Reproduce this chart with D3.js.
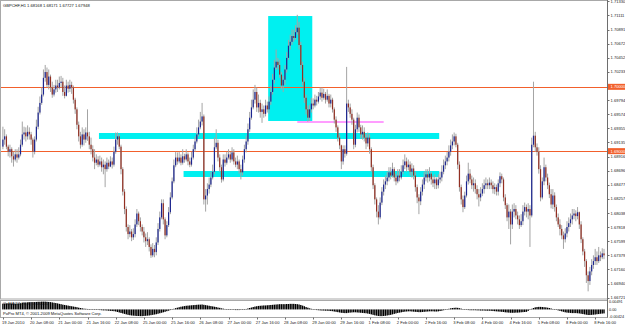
<!DOCTYPE html>
<html>
<head>
<meta charset="utf-8">
<script src="https://cdn.jsdelivr.net/npm/d3@7"></script>
<style>
  body { margin: 0; background: #fff; }
  svg { display: block; }
  text { font-family: "Liberation Sans", Arial, sans-serif; }
</style>
</head>
<body>
<script>
// General constants
const WIDTH = 625;
const HEIGHT = 326;

const chartTitle = "GBPCHF,H1  1.68168 1.68171 1.67727 1.67948";
const copyright = "PoPro MT4, \u00a9 2001-2009 MetaQuotes Software Corp.";
const osmaTitle = "OsMA(12,26,9) -0.00251";

// time axis: one label every 16 hourly bars
const timeLabels = ["19 Jan 2010", "20 Jan 08:00", "21 Jan 00:00", "21 Jan 16:00", "22 Jan 08:00",
  "25 Jan 00:00", "25 Jan 16:00", "26 Jan 08:00", "27 Jan 00:00", "27 Jan 16:00", "28 Jan 08:00",
  "29 Jan 00:00", "29 Jan 16:00", "1 Feb 08:00", "2 Feb 00:00", "2 Feb 16:00", "3 Feb 08:00",
  "4 Feb 00:00", "4 Feb 16:00", "5 Feb 08:00", "8 Feb 00:00", "8 Feb 16:00"];
const timeLabelBars = [0, 16, 32, 48, 64, 80, 96, 112, 128, 144, 160, 176, 192, 208, 224, 240,
  256, 272, 288, 304, 320, 336];

// price axis tick labels
const priceTicks = [1.71330, 1.71111, 1.70891, 1.70672, 1.70452, 1.70233, 1.70013, 1.69794,
  1.69574, 1.69355, 1.69135, 1.68916, 1.68696, 1.68477, 1.68257, 1.68038, 1.67818, 1.67599,
  1.67379, 1.67160, 1.66940, 1.66721];

// horizontal levels drawn on the chart
const levelLines = [1.70000, 1.69000];

// OHLC, hourly bars
const opens = [1.6907,
  1.6918,1.6923,1.6907,1.6899,1.6903,1.6892,1.6887,1.6895,1.6890,1.6895,1.6910,1.6926,1.6929,1.6923,1.6930,1.6926,
  1.6918,1.6899,1.6918,1.6938,1.6960,1.6975,1.6988,1.7014,1.7023,1.7003,1.7016,1.6999,1.6988,1.6996,1.7002,1.6999,
  1.7006,1.7008,1.6992,1.6986,1.7002,1.6997,1.7003,1.6999,1.6980,1.6965,1.6941,1.6923,1.6910,1.6926,1.6918,1.6929,
  1.6923,1.6910,1.6903,1.6890,1.6882,1.6887,1.6879,1.6884,1.6875,1.6879,1.6872,1.6882,1.6876,1.6884,1.6879,1.6899,
  1.6918,1.6923,1.6907,1.6872,1.6837,1.6810,1.6782,1.6771,1.6775,1.6766,1.6771,1.6786,1.6803,1.6791,1.6782,1.6775,
  1.6766,1.6760,1.6763,1.6751,1.6738,1.6748,1.6743,1.6758,1.6779,1.6797,1.6819,1.6794,1.6769,1.6785,1.6805,1.6828,
  1.6853,1.6878,1.6890,1.6884,1.6890,1.6882,1.6892,1.6887,1.6895,1.6884,1.6879,1.6890,1.6903,1.6915,1.6926,1.6937,
  1.6946,1.6954,1.6825,1.6831,1.6841,1.6848,1.6859,1.6868,1.6906,1.6913,1.6890,1.6875,1.6856,1.6887,1.6882,1.6890,
  1.6895,1.6887,1.6898,1.6884,1.6879,1.6884,1.6872,1.6867,1.6887,1.6903,1.6915,1.6934,1.6952,1.6968,1.6980,1.6992,
  1.6968,1.6975,1.6961,1.6965,1.6958,1.6971,1.6965,1.6977,1.6992,1.7011,1.7030,1.7039,1.7034,1.7019,1.7002,1.7011,
  1.7027,1.7045,1.7064,1.7070,1.7079,1.7076,1.7085,1.7092,1.7065,1.7034,1.7008,1.6983,1.6965,1.6952,1.6965,1.6974,
  1.6971,1.6980,1.6977,1.6985,1.6991,1.6983,1.6989,1.6980,1.6986,1.6974,1.6980,1.6965,1.6949,1.6937,1.6921,1.6909,
  1.6884,1.6903,1.6896,1.6974,1.6968,1.6958,1.6949,1.6910,1.6934,1.6952,1.6937,1.6926,1.6930,1.6921,1.6912,1.6921,
  1.6903,1.6875,1.6847,1.6825,1.6806,1.6797,1.6820,1.6837,1.6848,1.6853,1.6859,1.6867,1.6862,1.6872,1.6859,1.6853,
  1.6862,1.6859,1.6868,1.6878,1.6884,1.6875,1.6879,1.6868,1.6873,1.6862,1.6844,1.6828,1.6822,1.6837,1.6848,1.6859,
  1.6864,1.6859,1.6865,1.6856,1.6850,1.6856,1.6847,1.6856,1.6859,1.6868,1.6878,1.6884,1.6890,1.6899,1.6909,1.6915,
  1.6923,1.6910,1.6879,1.6844,1.6825,1.6813,1.6831,1.6853,1.6865,1.6856,1.6847,1.6850,1.6841,1.6833,1.6828,1.6834,
  1.6841,1.6847,1.6850,1.6847,1.6851,1.6847,1.6841,1.6844,1.6837,1.6850,1.6861,1.6856,1.6828,1.6816,1.6797,1.6806,
  1.6786,1.6806,1.6810,1.6800,1.6794,1.6785,1.6791,1.6806,1.6813,1.6806,1.6810,1.6800,1.6910,1.6924,1.6906,1.6899,
  1.6872,1.6828,1.6853,1.6875,1.6859,1.6847,1.6833,1.6817,1.6831,1.6813,1.6797,1.6786,1.6779,1.6769,1.6763,1.6772,
  1.6782,1.6788,1.6794,1.6800,1.6803,1.6799,1.6805,1.6786,1.6763,1.6744,1.6729,1.6707,1.6698,1.6713,1.6723,1.6729,
  1.6735,1.6729,1.6738,1.6735,1.6741];

const highs = [
  1.6938,1.6934,1.6926,1.6910,1.6910,1.6906,1.6899,1.6903,1.6903,1.6906,1.6918,1.6946,1.6938,1.6937,1.6940,1.6937,
  1.6930,1.6921,1.6923,1.6949,1.6969,1.6985,1.6999,1.7027,1.7034,1.7030,1.7027,1.7019,1.7008,1.7003,1.7011,1.7011,
  1.7016,1.7017,1.7014,1.7002,1.7011,1.7008,1.7011,1.7008,1.7002,1.6983,1.6968,1.6946,1.6930,1.6937,1.6934,1.6937,
  1.6965,1.6930,1.6921,1.6909,1.6903,1.6895,1.6892,1.6893,1.6890,1.6887,1.6884,1.6890,1.6887,1.6892,1.6890,1.6907,
  1.6929,1.6929,1.6926,1.6910,1.6875,1.6841,1.6814,1.6786,1.6785,1.6779,1.6780,1.6794,1.6810,1.6806,1.6797,1.6786,
  1.6782,1.6772,1.6774,1.6766,1.6755,1.6757,1.6754,1.6766,1.6788,1.6806,1.6825,1.6825,1.6797,1.6791,1.6813,1.6836,
  1.6859,1.6887,1.6899,1.6898,1.6899,1.6895,1.6903,1.6896,1.6903,1.6898,1.6890,1.6899,1.6910,1.6923,1.6937,1.6949,
  1.6961,1.6975,1.6957,1.6841,1.6850,1.6859,1.6868,1.6879,1.6921,1.6934,1.6918,1.6895,1.6879,1.6895,1.6895,1.6899,
  1.6903,1.6899,1.6906,1.6903,1.6890,1.6893,1.6887,1.6879,1.6893,1.6910,1.6924,1.6943,1.6961,1.6980,1.6996,1.7003,
  1.6999,1.6988,1.6980,1.6974,1.6971,1.6980,1.6977,1.6985,1.7002,1.7020,1.7042,1.7058,1.7045,1.7042,1.7023,1.7017,
  1.7034,1.7054,1.7073,1.7081,1.7089,1.7089,1.7096,1.7112,1.7101,1.7070,1.7039,1.7014,1.6988,1.6971,1.6972,1.6983,
  1.6982,1.6988,1.6986,1.6992,1.6999,1.6999,1.6997,1.6992,1.6996,1.6989,1.6988,1.6983,1.6968,1.6954,1.6940,1.6926,
  1.6910,1.6909,1.6909,1.7031,1.6980,1.6974,1.6965,1.6952,1.6941,1.6960,1.6957,1.6941,1.6940,1.6937,1.6927,1.6929,
  1.6926,1.6906,1.6879,1.6850,1.6828,1.6816,1.6828,1.6844,1.6856,1.6862,1.6868,1.6875,1.6875,1.6882,1.6875,1.6865,
  1.6872,1.6872,1.6878,1.6887,1.6895,1.6890,1.6887,1.6884,1.6881,1.6878,1.6868,1.6848,1.6833,1.6844,1.6856,1.6868,
  1.6872,1.6872,1.6875,1.6868,1.6862,1.6864,1.6859,1.6864,1.6868,1.6878,1.6887,1.6893,1.6899,1.6909,1.6918,1.6926,
  1.6929,1.6927,1.6913,1.6884,1.6848,1.6831,1.6837,1.6862,1.6882,1.6872,1.6862,1.6859,1.6856,1.6847,1.6841,1.6844,
  1.6850,1.6856,1.6859,1.6856,1.6859,1.6856,1.6853,1.6850,1.6848,1.6856,1.6867,1.6865,1.6859,1.6833,1.6819,1.6817,
  1.6810,1.6817,1.6819,1.6816,1.6806,1.6800,1.6802,1.6816,1.6820,1.6817,1.6819,1.6816,1.6921,1.7008,1.6930,1.6912,
  1.6906,1.6878,1.6859,1.6890,1.6879,1.6865,1.6851,1.6841,1.6841,1.6836,1.6817,1.6803,1.6794,1.6785,1.6775,1.6780,
  1.6791,1.6797,1.6803,1.6810,1.6810,1.6808,1.6813,1.6806,1.6791,1.6766,1.6748,1.6732,1.6713,1.6720,1.6732,1.6738,
  1.6748,1.6744,1.6751,1.6744,1.6749,1.6748];

const lows = [
  1.6903,1.6910,1.6903,1.6892,1.6890,1.6882,1.6876,1.6884,1.6882,1.6887,1.6892,1.6907,1.6918,1.6915,1.6918,1.6918,
  1.6910,1.6890,1.6895,1.6915,1.6934,1.6957,1.6972,1.6985,1.7008,1.6999,1.6996,1.6992,1.6983,1.6985,1.6991,1.6992,
  1.6996,1.6999,1.6986,1.6982,1.6985,1.6991,1.6992,1.6989,1.6974,1.6958,1.6934,1.6915,1.6904,1.6907,1.6909,1.6913,
  1.6916,1.6903,1.6895,1.6884,1.6872,1.6878,1.6875,1.6876,1.6868,1.6864,1.6844,1.6868,1.6872,1.6875,1.6873,1.6876,
  1.6896,1.6910,1.6903,1.6864,1.6831,1.6802,1.6775,1.6763,1.6766,1.6760,1.6762,1.6766,1.6782,1.6785,1.6775,1.6769,
  1.6758,1.6751,1.6754,1.6744,1.6734,1.6735,1.6735,1.6738,1.6754,1.6775,1.6794,1.6786,1.6763,1.6766,1.6782,1.6802,
  1.6825,1.6850,1.6875,1.6879,1.6881,1.6878,1.6879,1.6882,1.6884,1.6878,1.6875,1.6876,1.6887,1.6899,1.6912,1.6923,
  1.6934,1.6940,1.6817,1.6806,1.6817,1.6834,1.6844,1.6856,1.6864,1.6903,1.6884,1.6868,1.6851,1.6853,1.6876,1.6879,
  1.6887,1.6882,1.6884,1.6879,1.6875,1.6872,1.6865,1.6856,1.6862,1.6882,1.6898,1.6910,1.6930,1.6949,1.6965,1.6974,
  1.6961,1.6960,1.6952,1.6944,1.6952,1.6954,1.6960,1.6958,1.6972,1.6988,1.7005,1.7027,1.7027,1.7014,1.6996,1.6992,
  1.7003,1.7022,1.7042,1.7058,1.7065,1.7070,1.7073,1.7081,1.7058,1.7027,1.7002,1.6975,1.6957,1.6946,1.6947,1.6960,
  1.6965,1.6968,1.6971,1.6974,1.6980,1.6977,1.6980,1.6974,1.6977,1.6968,1.6968,1.6960,1.6943,1.6930,1.6915,1.6903,
  1.6872,1.6879,1.6890,1.6893,1.6961,1.6952,1.6941,1.6903,1.6906,1.6929,1.6930,1.6920,1.6918,1.6915,1.6903,1.6907,
  1.6896,1.6868,1.6841,1.6817,1.6797,1.6786,1.6794,1.6816,1.6831,1.6841,1.6847,1.6853,1.6856,1.6859,1.6853,1.6847,
  1.6850,1.6853,1.6856,1.6864,1.6872,1.6868,1.6870,1.6862,1.6859,1.6856,1.6837,1.6819,1.6802,1.6816,1.6831,1.6841,
  1.6853,1.6851,1.6853,1.6848,1.6844,1.6841,1.6841,1.6842,1.6850,1.6853,1.6864,1.6872,1.6878,1.6884,1.6893,1.6903,
  1.6909,1.6906,1.6872,1.6837,1.6817,1.6805,1.6810,1.6828,1.6848,1.6850,1.6841,1.6837,1.6834,1.6825,1.6814,1.6822,
  1.6830,1.6834,1.6841,1.6841,1.6841,1.6841,1.6834,1.6833,1.6831,1.6831,1.6844,1.6850,1.6822,1.6810,1.6791,1.6779,
  1.6755,1.6779,1.6797,1.6794,1.6786,1.6779,1.6782,1.6785,1.6800,1.6797,1.6794,1.6751,1.6797,1.6906,1.6899,1.6893,
  1.6865,1.6822,1.6825,1.6847,1.6853,1.6841,1.6827,1.6811,1.6810,1.6806,1.6791,1.6782,1.6769,1.6763,1.6748,1.6758,
  1.6766,1.6775,1.6782,1.6786,1.6794,1.6791,1.6794,1.6779,1.6757,1.6738,1.6720,1.6695,1.6682,1.6692,1.6707,1.6717,
  1.6723,1.6723,1.6726,1.6729,1.6732,1.6732];

const closes = [
  1.6918,1.6923,1.6907,1.6899,1.6903,1.6892,1.6887,1.6895,1.6890,1.6895,1.6910,1.6926,1.6929,1.6923,1.6930,1.6926,
  1.6918,1.6899,1.6918,1.6938,1.6960,1.6975,1.6988,1.7014,1.7023,1.7003,1.7016,1.6999,1.6988,1.6996,1.7002,1.6999,
  1.7006,1.7008,1.6992,1.6986,1.7002,1.6997,1.7003,1.6999,1.6980,1.6965,1.6941,1.6923,1.6910,1.6926,1.6918,1.6929,
  1.6923,1.6910,1.6903,1.6890,1.6882,1.6887,1.6879,1.6884,1.6875,1.6879,1.6872,1.6882,1.6876,1.6884,1.6879,1.6899,
  1.6918,1.6923,1.6907,1.6872,1.6837,1.6810,1.6782,1.6771,1.6775,1.6766,1.6771,1.6786,1.6803,1.6791,1.6782,1.6775,
  1.6766,1.6760,1.6763,1.6751,1.6738,1.6748,1.6743,1.6758,1.6779,1.6797,1.6819,1.6794,1.6769,1.6785,1.6805,1.6828,
  1.6853,1.6878,1.6890,1.6884,1.6890,1.6882,1.6892,1.6887,1.6895,1.6884,1.6879,1.6890,1.6903,1.6915,1.6926,1.6937,
  1.6946,1.6954,1.6825,1.6831,1.6841,1.6848,1.6859,1.6868,1.6906,1.6913,1.6890,1.6875,1.6856,1.6887,1.6882,1.6890,
  1.6895,1.6887,1.6898,1.6884,1.6879,1.6884,1.6872,1.6867,1.6887,1.6903,1.6915,1.6934,1.6952,1.6968,1.6980,1.6992,
  1.6968,1.6975,1.6961,1.6965,1.6958,1.6971,1.6965,1.6977,1.6992,1.7011,1.7030,1.7039,1.7034,1.7019,1.7002,1.7011,
  1.7027,1.7045,1.7064,1.7070,1.7079,1.7076,1.7085,1.7092,1.7065,1.7034,1.7008,1.6983,1.6965,1.6952,1.6965,1.6974,
  1.6971,1.6980,1.6977,1.6985,1.6991,1.6983,1.6989,1.6980,1.6986,1.6974,1.6980,1.6965,1.6949,1.6937,1.6921,1.6909,
  1.6884,1.6903,1.6896,1.6974,1.6968,1.6958,1.6949,1.6910,1.6934,1.6952,1.6937,1.6926,1.6930,1.6921,1.6912,1.6921,
  1.6903,1.6875,1.6847,1.6825,1.6806,1.6797,1.6820,1.6837,1.6848,1.6853,1.6859,1.6867,1.6862,1.6872,1.6859,1.6853,
  1.6862,1.6859,1.6868,1.6878,1.6884,1.6875,1.6879,1.6868,1.6873,1.6862,1.6844,1.6828,1.6822,1.6837,1.6848,1.6859,
  1.6864,1.6859,1.6865,1.6856,1.6850,1.6856,1.6847,1.6856,1.6859,1.6868,1.6878,1.6884,1.6890,1.6899,1.6909,1.6915,
  1.6923,1.6910,1.6879,1.6844,1.6825,1.6813,1.6831,1.6853,1.6865,1.6856,1.6847,1.6850,1.6841,1.6833,1.6828,1.6834,
  1.6841,1.6847,1.6850,1.6847,1.6851,1.6847,1.6841,1.6844,1.6837,1.6850,1.6861,1.6856,1.6828,1.6816,1.6797,1.6806,
  1.6786,1.6806,1.6810,1.6800,1.6794,1.6785,1.6791,1.6806,1.6813,1.6806,1.6810,1.6800,1.6910,1.6924,1.6906,1.6899,
  1.6872,1.6828,1.6853,1.6875,1.6859,1.6847,1.6833,1.6817,1.6831,1.6813,1.6797,1.6786,1.6779,1.6769,1.6763,1.6772,
  1.6782,1.6788,1.6794,1.6800,1.6803,1.6799,1.6805,1.6786,1.6763,1.6744,1.6729,1.6707,1.6698,1.6713,1.6723,1.6729,
  1.6735,1.6729,1.6738,1.6735,1.6741,1.6738];

// OsMA histogram in the lower window
const osma = [
  0.0036,0.0037,0.0037,0.0038,0.0038,0.0037,0.0036,0.0036,0.0037,0.0038,0.0039,0.0041,0.0042,0.0043,0.0044,0.0045,
  0.0046,0.0046,0.0046,0.0047,0.0048,0.0048,0.0049,0.0049,0.0049,0.0048,0.0047,0.0046,0.0044,0.0042,0.0040,0.0038,
  0.0035,0.0033,0.0030,0.0028,0.0026,0.0024,0.0022,0.0020,0.0018,0.0016,0.0014,0.0011,0.0009,0.0007,0.0005,0.0004,
  0.0003,0.0002,0.0001,0.0000,-0.0001,-0.0002,-0.0003,-0.0004,-0.0005,-0.0006,-0.0006,-0.0007,-0.0008,-0.0009,-0.0010,-0.0011,
  -0.0013,-0.0016,-0.0019,-0.0022,-0.0025,-0.0028,-0.0031,-0.0034,-0.0036,-0.0038,-0.0039,-0.0040,-0.0041,-0.0041,-0.0042,-0.0042,
  -0.0041,-0.0040,-0.0039,-0.0038,-0.0036,-0.0034,-0.0032,-0.0030,-0.0027,-0.0024,-0.0021,-0.0018,-0.0015,-0.0011,-0.0008,-0.0004,
  0.0000,0.0004,0.0008,0.0011,0.0014,0.0017,0.0019,0.0021,0.0023,0.0024,0.0025,0.0026,0.0027,0.0028,0.0029,0.0030,
  0.0030,0.0031,0.0029,0.0027,0.0025,0.0023,0.0021,0.0019,0.0017,0.0015,0.0012,0.0010,0.0007,0.0005,0.0003,0.0001,
  -0.0001,-0.0002,-0.0003,-0.0003,-0.0004,-0.0004,-0.0004,-0.0003,-0.0002,0.0000,0.0003,0.0006,0.0009,0.0012,0.0015,0.0018,
  0.0020,0.0022,0.0023,0.0024,0.0025,0.0025,0.0026,0.0027,0.0028,0.0029,0.0030,0.0031,0.0032,0.0033,0.0033,0.0033,
  0.0033,0.0034,0.0034,0.0035,0.0035,0.0035,0.0034,0.0033,0.0031,0.0028,0.0024,0.0020,0.0015,0.0011,0.0007,0.0004,
  0.0001,-0.0002,-0.0004,-0.0005,-0.0006,-0.0007,-0.0007,-0.0008,-0.0008,-0.0009,-0.0010,-0.0011,-0.0013,-0.0015,-0.0017,-0.0019,
  -0.0021,-0.0022,-0.0023,-0.0023,-0.0021,-0.0020,-0.0019,-0.0018,-0.0018,-0.0019,-0.0020,-0.0021,-0.0022,-0.0023,-0.0024,-0.0026,
  -0.0028,-0.0031,-0.0034,-0.0037,-0.0039,-0.0041,-0.0042,-0.0042,-0.0041,-0.0040,-0.0038,-0.0036,-0.0034,-0.0031,-0.0028,-0.0025,
  -0.0022,-0.0020,-0.0018,-0.0016,-0.0014,-0.0013,-0.0012,-0.0012,-0.0013,-0.0014,-0.0015,-0.0016,-0.0017,-0.0017,-0.0016,-0.0015,
  -0.0014,-0.0013,-0.0012,-0.0012,-0.0012,-0.0013,-0.0013,-0.0012,-0.0010,-0.0008,-0.0005,-0.0002,0.0001,0.0004,0.0007,0.0009,
  0.0010,0.0011,0.0010,0.0008,0.0005,0.0002,-0.0001,-0.0003,-0.0004,-0.0005,-0.0005,-0.0005,-0.0005,-0.0006,-0.0006,-0.0007,
  -0.0007,-0.0007,-0.0008,-0.0008,-0.0008,-0.0009,-0.0010,-0.0011,-0.0012,-0.0013,-0.0014,-0.0015,-0.0016,-0.0018,-0.0019,-0.0020,
  -0.0021,-0.0021,-0.0021,-0.0020,-0.0020,-0.0019,-0.0018,-0.0017,-0.0016,-0.0015,-0.0009,-0.0002,0.0004,0.0009,0.0013,0.0015,
  0.0016,0.0016,0.0015,0.0014,0.0013,0.0011,0.0009,0.0006,0.0003,0.0000,-0.0003,-0.0006,-0.0009,-0.0012,-0.0015,-0.0018,
  -0.0020,-0.0021,-0.0022,-0.0023,-0.0023,-0.0023,-0.0024,-0.0025,-0.0027,-0.0029,-0.0031,-0.0033,-0.0035,-0.0035,-0.0034,-0.0033,
  -0.0032,-0.0030,-0.0029,-0.0027,-0.0026,-0.0025];
const osmaTicks = [0.00491, 0, -0.00424];
const osmaTickLabels = ["0.00491", "0.00", "-0.00424"];

// drawn objects: rectangles and a trend line, in bar index / price
const rectObjects = [
  {from: 151, to: 175, top: 1.71101, bottom: 1.69469},
  {from: 55, to: 247, top: 1.69282, bottom: 1.69189},
  {from: 103, to: 247, top: 1.68691, bottom: 1.68598}
];
const flatLine = {from: 167, to: 216, price: 1.69453};

/**
 * Layout of the MT4 window
 */
const PLOT_RIGHT = 607;
const MAIN_BOTTOM = 298.5;
const SUB_TOP = 300.5, SUB_BOTTOM = 317.5;
const FONT = 4.1;

const colUp = "#1c2690";
const colDown = "#922f22";
const colWick = "#a4a4a4";
const colLevel = "#f2602c";

const svg = d3.select("body").append("svg")
  .attr("width", WIDTH)
  .attr("height", HEIGHT);

const x = d3.scaleLinear().domain([0, closes.length - 1]).range([2.9, 604]);
const y = d3.scaleLinear().domain([priceTicks[priceTicks.length - 1], priceTicks[0]]).range([297.7, 1.3]);
const yOsma = d3.scaleLinear().domain([osmaTicks[2], osmaTicks[0]]).range([316.2, 301.6]);

svg.append("defs").append("clipPath").attr("id", "mainClip")
  .append("rect").attr("x", 1).attr("y", 1).attr("width", PLOT_RIGHT - 1).attr("height", MAIN_BOTTOM - 1);

// frames
svg.append("rect").attr("x", 0.5).attr("y", 0.5).attr("width", PLOT_RIGHT).attr("height", MAIN_BOTTOM)
  .attr("fill", "none").attr("stroke", "#a8a8a8");
svg.append("rect").attr("x", 0.5).attr("y", SUB_TOP).attr("width", PLOT_RIGHT).attr("height", SUB_BOTTOM - SUB_TOP)
  .attr("fill", "none").attr("stroke", "#a8a8a8");
svg.append("line").attr("x1", PLOT_RIGHT + 0.5).attr("x2", PLOT_RIGHT + 0.5).attr("y1", 0).attr("y2", SUB_BOTTOM)
  .attr("stroke", "#6e6e6e");

const main = svg.append("g").attr("clip-path", "url(#mainClip)");

// cyan rectangles (background objects)
main.selectAll("rect.obj").data(rectObjects).enter().append("rect")
  .attr("class", "obj")
  .attr("x", d => x(d.from) - 0.9)
  .attr("y", d => y(d.top))
  .attr("width", d => x(d.to) - x(d.from) + 1.8)
  .attr("height", d => y(d.bottom) - y(d.top))
  .attr("fill", "#00f0f0");

// level lines
main.selectAll("line.level").data(levelLines).enter().append("line")
  .attr("class", "level")
  .attr("x1", 0).attr("x2", PLOT_RIGHT)
  .attr("y1", d => Math.round(y(d)) + 0.5).attr("y2", d => Math.round(y(d)) + 0.5)
  .attr("stroke", colLevel).attr("stroke-width", 1.2);

// magenta flat line
main.append("line")
  .attr("x1", x(flatLine.from)).attr("x2", x(flatLine.to))
  .attr("y1", y(flatLine.price)).attr("y2", y(flatLine.price))
  .attr("stroke", "#ff3cff").attr("stroke-width", 1.2);

// candles
const bars = d3.range(closes.length);
main.selectAll("line.wick").data(bars).enter().append("line")
  .attr("class", "wick")
  .attr("x1", i => x(i)).attr("x2", i => x(i))
  .attr("y1", i => y(Math.max(highs[i], opens[i], closes[i])))
  .attr("y2", i => y(Math.min(lows[i], opens[i], closes[i])))
  .attr("stroke", colWick).attr("stroke-width", 1);

main.selectAll("rect.body").data(bars).enter().append("rect")
  .attr("class", "body")
  .attr("x", i => x(i) - 0.6)
  .attr("width", 1.2)
  .attr("y", i => y(Math.max(opens[i], closes[i])))
  .attr("height", i => Math.max(1, Math.abs(y(opens[i]) - y(closes[i]))))
  .attr("fill", i => closes[i] >= opens[i] ? colUp : colDown);

// title
svg.append("text").attr("x", 3).attr("y", 7).attr("font-size", FONT).attr("fill", "#111").text(chartTitle);

// price axis
svg.selectAll("line.ptick").data(priceTicks).enter().append("line")
  .attr("class", "ptick")
  .attr("x1", PLOT_RIGHT + 0.5).attr("x2", PLOT_RIGHT + 2.5)
  .attr("y1", d => Math.round(y(d)) + 0.5).attr("y2", d => Math.round(y(d)) + 0.5)
  .attr("stroke", "#6e6e6e");
svg.selectAll("text.plabel").data(priceTicks).enter().append("text")
  .attr("class", "plabel")
  .attr("x", PLOT_RIGHT + 3.5).attr("y", d => y(d) + 1.5)
  .attr("font-size", FONT).attr("fill", "#222")
  .text(d => d.toFixed(5));

// highlighted level labels
const levelTags = svg.selectAll("g.tag").data(levelLines).enter().append("g").attr("class", "tag");
levelTags.append("rect")
  .attr("x", PLOT_RIGHT + 1).attr("y", d => y(d) - 3)
  .attr("width", WIDTH - PLOT_RIGHT).attr("height", 6)
  .attr("fill", colLevel);
levelTags.append("text")
  .attr("x", PLOT_RIGHT + 3.5).attr("y", d => y(d) + 1.5)
  .attr("font-size", FONT).attr("fill", "#fff")
  .text(d => d.toFixed(5));

// OsMA window
svg.selectAll("rect.osma").data(bars).enter().append("rect")
  .attr("class", "osma")
  .attr("x", i => x(i) - 0.7).attr("width", 1.4)
  .attr("y", i => Math.min(yOsma(0), yOsma(osma[i])))
  .attr("height", i => Math.max(0.5, Math.abs(yOsma(osma[i]) - yOsma(0))))
  .attr("fill", "#000");

svg.append("text").attr("x", 3).attr("y", 305).attr("font-size", FONT).attr("fill", "#111").text(osmaTitle);
svg.append("text").attr("x", 3).attr("y", 315).attr("font-size", FONT).attr("fill", "#111").text(copyright);

svg.selectAll("text.olabel").data(osmaTicks).enter().append("text")
  .attr("class", "olabel")
  .attr("x", PLOT_RIGHT + 2).attr("y", d => yOsma(d) + 1.5)
  .attr("font-size", 3.8).attr("fill", "#222")
  .text((d, i) => osmaTickLabels[i]);

// time axis
svg.selectAll("line.ttick").data(timeLabelBars).enter().append("line")
  .attr("class", "ttick")
  .attr("x1", i => Math.round(x(i)) + 0.5).attr("x2", i => Math.round(x(i)) + 0.5)
  .attr("y1", SUB_BOTTOM).attr("y2", SUB_BOTTOM + 2)
  .attr("stroke", "#6e6e6e");
svg.selectAll("text.tlabel").data(timeLabelBars).enter().append("text")
  .attr("class", "tlabel")
  .attr("x", i => x(i) - 1).attr("y", 323.5)
  .attr("font-size", FONT).attr("fill", "#222")
  .text((d, i) => timeLabels[i]);
</script>
</body>
</html>
